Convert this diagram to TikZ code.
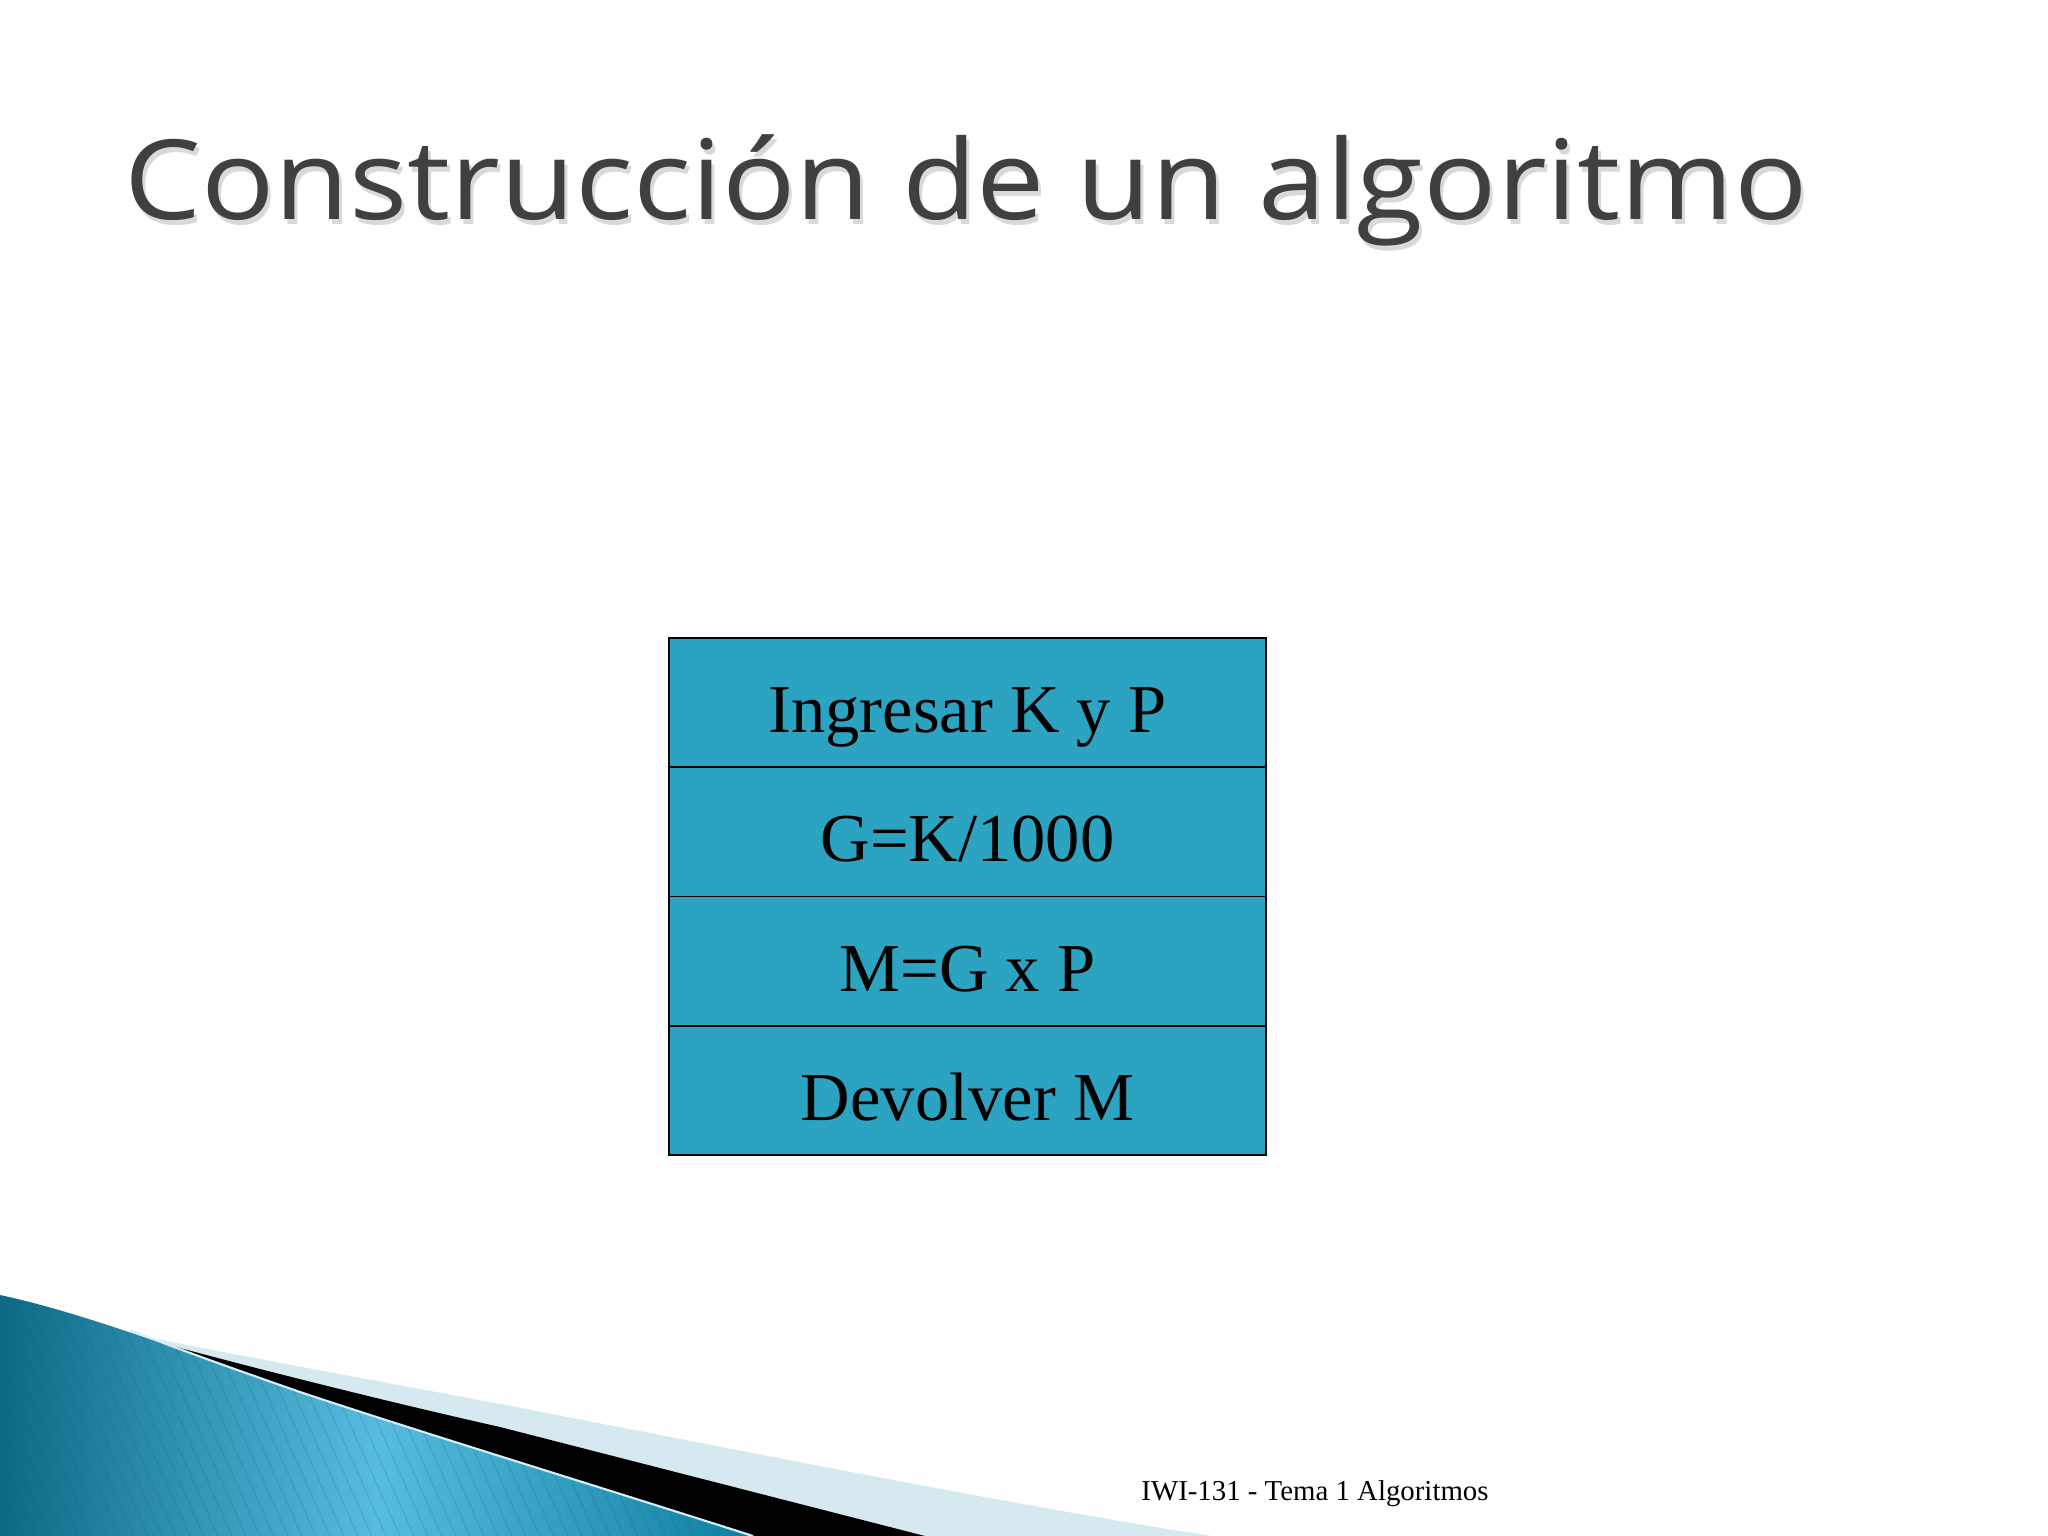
\documentclass[tikz,border=0pt]{standalone}
\usepackage{fontspec}
\setmainfont{Liberation Serif}
\newfontfamily\titlefont[FakeStretch=1.1]{Open Sans}
\usetikzlibrary{positioning}

\definecolor{boxfill}{HTML}{2DA3C2}
\definecolor{titlegray}{HTML}{404040}
\definecolor{banddark}{HTML}{0D6A86}
\definecolor{bandlight}{HTML}{58BCDF}
\definecolor{bandright}{HTML}{0E7FA0}
\definecolor{bandpale}{HTML}{D6E8F0}

\tikzset{algo box/.style={
    draw=black,
    line width=0.5pt,
    fill=boxfill,
    minimum width=5.97cm,
    minimum height=1.292cm,
    inner sep=0pt,
    outer sep=0pt,
    text height=0.6cm,
    text depth=0pt,
    font=\fontsize{19.5}{22}\selectfont
  },
  slide title/.style={
    anchor=base west,
    font=\titlefont\fontsize{31.5}{36}\selectfont
  },
  stripe/.style={banddark, opacity=0.18, line width=0.4pt},
}

\begin{document}
\begin{tikzpicture}[x=0.01cm,y=-0.01cm]
  \useasboundingbox (0,0) rectangle (2048,1536);

  % title with its soft shadow
  \node[slide title, text=gray!30] (titleshadow) at (115,224) {Construcción de un algoritmo};
  \node[slide title, text=titlegray] (title) at (112,219) {Construcción de un algoritmo};

  % the four steps
  \node[algo box] (ingresar) at (967.5,702.6) {Ingresar K y P};
  \node[algo box, below=0pt of ingresar] (gcalc) {G=K/1000};
  \node[algo box, below=0pt of gcalc] (mcalc) {M=G x P};
  \node[algo box, below=0pt of mcalc] (devolver) {Devolver M};

  % bottom left swoosh
  \fill[bandpale] (100,1328) .. controls (250,1358) and (400,1385) .. (500,1404)
    .. controls (750,1452) and (1000,1503) .. (1212,1536) -- (0,1536) -- cycle;
  \fill[black] (100,1326) .. controls (220,1360) and (380,1400) .. (500,1427)
    -- (925,1536) -- (0,1536) -- cycle;
  \shade[left color=banddark, right color=bandright, middle color=bandlight]
    (0,1295) .. controls (80,1312) and (180,1350) .. (300,1392)
    .. controls (420,1432) and (600,1487) .. (753,1536) -- (0,1536) -- cycle;
  \begin{scope}
    \clip (0,1295) .. controls (80,1312) and (180,1350) .. (300,1392)
      .. controls (420,1432) and (600,1487) .. (753,1536) -- (0,1536) -- cycle;
    \foreach \x in {-200,-186,...,760}
      \draw[stripe] (\x,1290) -- ++(110,246);
  \end{scope}
  \draw[white!75!bandlight, line width=0.6pt] (130,1330) .. controls (180,1350) and (240,1371) .. (300,1392)
    .. controls (420,1432) and (600,1487) .. (753,1536);

  \node[anchor=base west, font=\fontsize{8.2}{10}\selectfont] (footer) at (1129,1500) {IWI-131 - Tema 1 Algoritmos};
\end{tikzpicture}
\end{document}
